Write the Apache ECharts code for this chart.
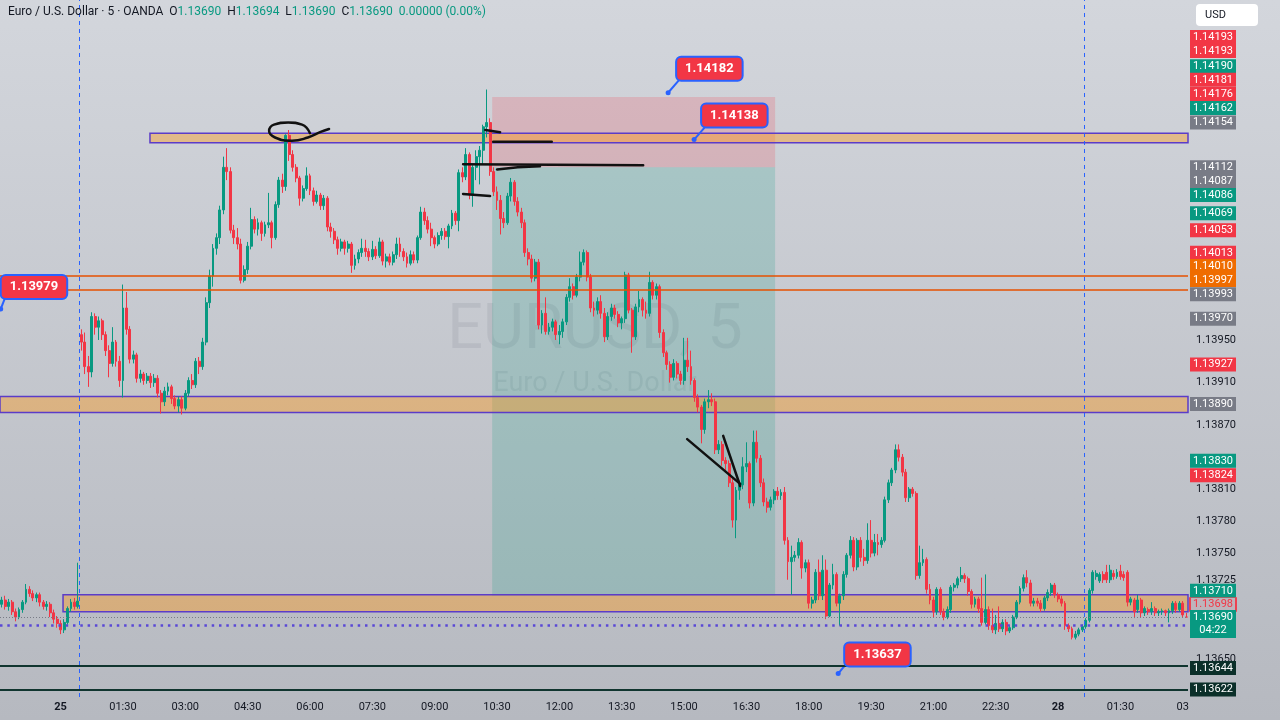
<!DOCTYPE html>
<html>
<head>
<meta charset="utf-8">
<title>EURUSD, 5</title>
<script src="https://cdn.jsdelivr.net/npm/echarts@6/dist/echarts.min.js"></script>
<style>
  html, body { margin: 0; padding: 0; background: #c8cbd1; }
  #chart { width: 1280px; height: 720px; }
</style>
</head>
<body>
<div id="chart"></div>
<script>
// prices are kept in 0.00001 steps above 1.13000
var BASE = 1.13;

// 5 min bars: [open, close, low, high]
var bars = [
  // 24th, before the session break
  [702,706,699,709],[706,700,697,710],[700,704,696,707],[704,695,692,706],[695,690,686,698],
  [690,697,688,699],[697,704,694,706],[704,716,702,721],[716,712,709,719],[712,708,705,715],
  [708,711,704,713],[711,704,700,713],[704,700,697,706],[700,702,696,705],[702,694,690,704],
  [694,688,684,697],[688,684,680,691],[684,678,674,687],[678,685,675,688],[685,698,683,700],
  [698,704,695,707],[704,700,697,708],[700,705,698,741],
  // 25th
  [955,948,940,960],[948,925,918,957],[925,920,906,935],[920,972,915,976],[972,962,955,975],
  [962,968,950,972],[968,955,950,970],[955,940,935,958],[940,928,915,945],[928,948,925,962],
  [948,930,925,950],[930,912,906,935],[912,980,896,1002],[980,960,955,995],[960,932,928,963],
  [932,936,928,940],[936,914,910,938],[914,918,910,922],[918,912,908,920],[912,916,909,919],
  [916,910,905,919],[910,914,906,918],[914,900,896,917],[900,892,881,903],[892,902,888,906],
  [902,906,898,910],[906,895,890,908],[895,888,885,898],[888,894,882,897],[894,886,880,897],
  [886,900,884,903],[900,912,897,915],[912,908,904,918],[908,930,905,933],[930,925,918,934],
  [925,948,922,952],[948,985,945,990],[985,1010,980,1016],
  [1010,1036,1000,1040],[1036,1046,1030,1050],[1046,1072,1040,1076],[1072,1112,1068,1122],[1112,1108,1100,1130],
  [1108,1053,1050,1112],[1053,1046,1040,1058],[1046,1040,1035,1055],[1040,1006,1003,1045],[1006,1016,1004,1020],
  [1016,1038,1012,1042],[1038,1063,1035,1074],[1063,1054,1050,1066],[1054,1060,1048,1064],[1060,1050,1043,1062],
  [1050,1058,1047,1061],[1058,1060,1055,1088],[1060,1046,1036,1062],[1046,1077,1044,1080],[1077,1100,1074,1103],
  [1100,1094,1088,1106],[1094,1142,1090,1143],
  [1142,1124,1118,1147],[1124,1112,1108,1128],[1112,1102,1098,1115],[1102,1083,1076,1104],[1083,1092,1080,1095],
  [1092,1104,1090,1112],[1104,1090,1086,1106],[1090,1080,1076,1093],[1080,1086,1078,1090],[1086,1076,1072,1088],
  [1076,1083,1072,1086],[1083,1056,1052,1085],[1056,1052,1046,1060],[1052,1044,1040,1055],[1044,1036,1030,1047],
  [1036,1042,1033,1045],[1042,1036,1030,1044],[1036,1040,1032,1043],[1040,1020,1013,1042],[1020,1026,1016,1030],
  [1026,1032,1022,1035],[1032,1036,1028,1045],[1036,1033,1028,1044],[1033,1028,1024,1036],[1028,1035,1025,1043],
  [1035,1029,1026,1038],[1029,1042,1027,1046],[1042,1024,1020,1044],[1024,1028,1018,1031],[1028,1023,1020,1031],
  [1023,1030,1020,1033],[1030,1040,1026,1046],[1040,1033,1028,1046],[1033,1028,1024,1036],[1028,1022,1018,1032],
  [1022,1030,1020,1034],[1030,1025,1022,1033],[1025,1046,1022,1048],
  [1046,1070,1044,1075],[1070,1062,1058,1074],[1062,1054,1050,1066],[1054,1046,1038,1060],[1046,1040,1036,1048],
  [1040,1048,1038,1051],[1048,1052,1044,1055],[1052,1047,1044,1055],[1047,1057,1036,1059],[1057,1069,1054,1072],
  [1069,1062,1058,1071],[1062,1107,1052,1110],[1107,1103,1098,1112],[1103,1124,1100,1130],[1124,1086,1082,1126],
  [1086,1112,1075,1114],[1112,1122,1100,1128],[1122,1128,1096,1132],[1128,1150,1115,1152],[1150,1154,1140,1185],
  [1154,1108,1104,1158],[1108,1089,1085,1112],[1089,1081,1072,1094],[1081,1064,1049,1086],[1064,1060,1055,1070],
  [1060,1085,1058,1088],[1085,1098,1080,1102],[1098,1080,1076,1100],[1080,1070,1066,1084],[1070,1060,1055,1074],
  [1060,1032,1028,1063],[1032,1026,1020,1036],[1026,1008,1004,1030],[1008,1023,1005,1026],[1023,964,960,1026],
  [964,975,956,978],[975,958,955,990],[958,962,955,966],[962,967,958,970],[967,955,950,969],
  [955,958,946,964],[958,967,952,970],[967,990,964,993],[990,1000,986,1008],[1000,992,988,1003],
  [992,1009,990,1012],[1009,1023,1005,1033],[1023,1032,1020,1035],[1032,1009,1005,1034],[1009,980,976,1012],
  [980,978,972,986],[978,986,974,990],[986,975,970,992],[975,953,948,980],[953,972,950,976],
  [972,980,968,984],[980,974,970,983],[974,966,962,977],[966,970,960,972],[970,1011,966,1014],
  [1011,978,975,1013],[978,953,938,980],[953,981,950,984],[981,988,976,996],[988,978,972,990],
  [978,975,970,986],[975,1004,972,1014],[1004,992,988,1006],[992,1000,988,1003],[1000,957,952,1002],
  [957,938,934,960],[938,927,922,940],[927,915,910,930],[915,928,912,932],[928,918,914,930],
  [918,912,908,921],[912,931,908,952],[931,925,920,952],[925,912,908,940],[912,896,892,914],
  [896,887,882,899],[887,866,853,889],[866,892,862,895],[892,894,886,903],[894,892,888,900],
  [892,847,843,895],[847,852,843,856],[852,837,832,855],[837,834,828,840],[834,816,812,837],
  [816,781,774,820],[781,809,764,812],[809,814,800,818],[814,831,810,840],[831,834,826,854],
  [834,797,792,836],[797,854,794,865],[854,839,835,865],[839,816,812,842],[816,798,794,820],
  [798,793,788,802],[793,800,790,803],[800,808,796,810],[808,804,800,812],[804,807,800,810],
  [807,762,758,812],[762,742,725,765],[742,746,711,757],[746,748,742,752],[748,760,745,764],
  [760,736,726,762],[736,741,732,744],[741,703,698,744],[703,706,698,709],[706,732,703,735],
  [732,710,706,744],[710,734,706,748],[734,691,688,744],[691,720,690,722],[720,730,716,740],
  [730,703,700,732],[703,710,682,712],[710,730,706,733],[730,748,727,750],[748,762,745,766],
  [762,737,733,765],[737,762,734,764],[762,746,742,765],[746,743,738,754],[743,762,740,778],
  [762,750,746,781],[750,760,747,768],[760,758,748,768],[758,762,755,765],[762,800,760,803],
  [800,816,797,819],[816,828,813,830],[828,847,825,852],[847,840,836,852],[840,826,822,843],
  [826,802,798,829],[802,810,798,812],[810,806,803,812],[806,729,725,808],[729,741,726,757],
  [741,744,738,754],[744,716,712,746],[716,706,702,721],[706,695,690,709],[695,716,692,718],
  [716,695,692,718],[695,690,687,698],[690,697,688,700],[697,718,694,720],[718,720,714,722],
  [720,726,717,728],[726,729,723,737],[729,726,722,731],[726,714,710,728],[714,702,698,716],
  [702,707,699,709],[707,698,694,709],
  [698,685,682,727],[685,697,683,730],[697,682,678,700],[682,678,675,698],[678,684,674,692],
  [684,679,676,700],[679,685,676,688],[685,677,673,688],[677,680,675,682],[680,690,678,692],
  [690,704,688,706],[704,717,702,719],[717,727,714,730],[727,722,718,734],[722,703,700,725],
  [703,705,700,708],[705,703,700,708],[703,698,695,706],[698,708,696,710],[708,713,705,716],
  [713,720,710,722],[720,711,708,722],[711,707,704,713],[707,703,700,710],[703,682,678,705],
  // 28th
  [682,679,676,684],[679,671,669,681],[671,674,669,677],[674,678,672,680],[678,681,676,683],
  [681,687,679,689],[687,715,685,717],[715,732,712,734],[728,731,725,734],[724,730,722,732],
  [730,725,722,733],[732,725,722,739],[725,734,722,739],[731,728,725,734],[728,732,726,735],
  [733,728,725,739],[730,727,724,733],[732,704,700,734],[704,707,701,709],[706,695,689,708],
  [697,706,694,711],[706,694,690,708],[694,698,691,700],[697,695,692,699],[695,698,692,704],
  [698,694,691,700],[694,695,691,697],[695,696,692,698],[696,694,691,697],[694,696,685,698],
  [696,703,693,705],[703,697,694,705],[697,703,695,705],[703,692,690,705],[690,690,690,694]
];

var tickLabels = ['25','01:30','03:00','04:30','06:00','07:30','09:00','10:30','12:00','13:30',
                  '15:00','16:30','18:00','19:30','21:00','22:30','28','01:30','03'];
var dayLabels = ['25', '28'];
var firstTick = 17, tickStep = 18;

var priceTicks = [1.13950, 1.13910, 1.13870, 1.13810, 1.13780, 1.13750, 1.13725, 1.13650];

// right-scale price tags
var tagPrices = [1.14193, 1.14193, 1.14190, 1.14181, 1.14176, 1.14162, 1.14154, 1.14112, 1.14087,
                 1.14086, 1.14069, 1.14053, 1.14013, 1.14010, 1.13997, 1.13993, 1.13970, 1.13927,
                 1.13890, 1.13830, 1.13824, 1.13710, 1.13698, 1.13690, 1.13644, 1.13622];
var tagKinds = ['sell','sell','buy','sell','sell','buy','gray','gray','gray',
                'buy','buy','sell','sell','orange','orange','gray','gray','sell',
                'gray','buy','sell','buy','outline','live','dark','dark'];
var tagShift = [-44, -30, -18, -14, -5, -6, 0, 0, -13,
                0, 0, 0, -20, -10, -10, 0, 0, 0,
                0, -7, 1, -5, -4, 7, 2, 0];
var liveCountdown = '04:22';

// drawings
var zoneLow = [1.14135, 1.13882, 1.13695];
var zoneHigh = [1.14144, 1.13897, 1.13711];
var zoneFrom = [42.8, -0.5, 17.7];
var orangeLevels = [1.14010, 1.13997];
var blackLevels = [1.13644, 1.13622];
var dottedLevels = [1.13682];
var sessionBreaks = [22.5, 312.5];
var tradeEntry = 1.14112, tradeStop = 1.14178, tradeTarget = 1.13710;
var tradeSpan = [141.6, 223.3];

var calloutPrices = [1.14182, 1.14138, 1.13979, 1.13637];
var calloutAt = [192.4, 199.9, -0.3, 241.5];
var calloutShift = [[9, -35], [8, -35], [1, -33], [7, -30]];
var calloutTails = [
  [[192.4, 1182], [195.6, 1194]],
  [[199.9, 1138], [203.1, 1150]],
  [[-0.3, 979], [0.9, 989]],
  [[241.5, 637], [244.3, 648]]
];

// freehand pen strokes, [bar position, price step]
var penStrokes = [
  [[89.0,1144],[86.7,1152],[82.7,1154],[78.6,1152],[77.2,1146],[78.9,1140],[83.8,1137],[88.4,1140],[91.9,1145],[94.5,1148]],
  [[139.6,1147],[143.9,1145]],
  [[141.9,1136],[158.8,1136]],
  [[133.2,1115],[185.2,1114]],
  [[143.0,1110],[149.0,1112.5],[155.4,1113.5]],
  [[133.2,1087],[141.0,1085]],
  [[197.9,857],[213.2,815]],
  [[208.3,860],[213.2,813]]
];

var FONT = 'Roboto, "Noto Sans", sans-serif';
var UP = '#089981', DOWN = '#f23645';

function px(v) { return +(BASE + v / 1e5).toFixed(5); }

var ohlc = bars.map(function (b) { return b.map(px); });
var N = bars.length;
var last = ohlc[N - 1];

var TAG_STYLE = {
  sell: { bg: DOWN, fg: '#fff' },
  buy: { bg: UP, fg: '#fff' },
  live: { bg: UP, fg: '#fff' },
  gray: { bg: '#787b86', fg: '#fff' },
  orange: { bg: '#ef6c00', fg: '#fff' },
  dark: { bg: '#0b2f29', fg: '#fff' },
  outline: { bg: 'rgba(242,54,69,0.07)', fg: DOWN, border: DOWN }
};

var tagPoints = tagPrices.map(function (v, k) {
  var s = TAG_STYLE[tagKinds[k]];
  var two = tagKinds[k] === 'live';
  return {
    coord: [0, v], x: 1213,
    symbol: 'rect',
    symbolSize: [46, two ? 28 : 14],
    symbolOffset: [0, tagShift[k]],
    itemStyle: { color: s.bg, borderColor: s.border || s.bg, borderWidth: s.border ? 1 : 0 },
    label: {
      show: true, position: 'inside', color: s.fg, fontSize: 11, fontFamily: FONT, lineHeight: 13,
      formatter: two ? v.toFixed(5) + '\n' + liveCountdown : v.toFixed(5)
    }
  };
});

var calloutPoints = calloutPrices.map(function (v, k) {
  return {
    coord: [calloutAt[k], v],
    symbol: 'circle', symbolSize: 5,
    itemStyle: { color: '#2962ff' },
    label: {
      show: true,
      position: [calloutShift[k][0] + 2.5, calloutShift[k][1] + 2.5],
      formatter: v.toFixed(5),
      backgroundColor: DOWN, borderColor: '#2962ff', borderWidth: 2, borderRadius: 4,
      padding: [4, 8], color: '#fff', fontSize: 13, fontWeight: 'bold', fontFamily: FONT, lineHeight: 14
    }
  };
});

var areas = [
  [{ xAxis: tradeSpan[0], yAxis: tradeEntry, itemStyle: { color: 'rgba(242,54,69,0.19)' } },
   { xAxis: tradeSpan[1], yAxis: tradeStop }],
  [{ xAxis: tradeSpan[0], yAxis: tradeTarget, itemStyle: { color: 'rgba(8,153,129,0.19)' } },
   { xAxis: tradeSpan[1], yAxis: tradeEntry }]
];
zoneLow.forEach(function (lo, k) {
  areas.push([
    { xAxis: zoneFrom[k], yAxis: lo,
      itemStyle: { color: 'rgba(255,150,20,0.4)', borderColor: '#5b3cc8', borderWidth: 1.5 } },
    { xAxis: N - 0.5, yAxis: zoneHigh[k] }
  ]);
});

var lines = [];
orangeLevels.forEach(function (v) {
  lines.push({ yAxis: v, lineStyle: { color: '#e65100', width: 1.5, type: 'solid' } });
});
blackLevels.forEach(function (v) {
  lines.push({ yAxis: v, lineStyle: { color: '#10352f', width: 2, type: 'solid' } });
});
dottedLevels.forEach(function (v) {
  lines.push({ yAxis: v, lineStyle: { color: '#5a48d6', width: 2.5, type: [2.5, 4.8] } });
});
lines.push({ yAxis: last[1], lineStyle: { color: '#787b86', width: 1, type: [1, 2] } });
sessionBreaks.forEach(function (v) {
  lines.push({ xAxis: v, lineStyle: { color: '#2962ff', width: 1, type: [4, 4] } });
});

var series = [{
  type: 'candlestick',
  xAxisIndex: 0, yAxisIndex: 0,
  data: ohlc,
  barWidth: 2.4,
  z: 3,
  itemStyle: { color: UP, color0: DOWN, borderColor: UP, borderColor0: DOWN, borderWidth: 1 }
}];

penStrokes.forEach(function (pts, k) {
  var s = {
    type: 'line', xAxisIndex: 1, yAxisIndex: 0, z: 4, silent: true, clip: false,
    data: pts.map(function (p) { return [p[0], px(p[1])]; }),
    smooth: pts.length > 3 ? 0.5 : false,
    showSymbol: false, symbol: 'none',
    lineStyle: { color: '#111', width: 2.5, cap: 'round' }
  };
  if (k === 0) {
    s.markArea = { silent: true, data: areas };
    s.markLine = { silent: true, precision: 5, symbol: ['none', 'none'], label: { show: false }, data: lines };
    s.markPoint = { silent: true, data: tagPoints.concat(calloutPoints) };
  }
  series.push(s);
});
calloutTails.forEach(function (pts) {
  series.push({
    type: 'line', xAxisIndex: 1, yAxisIndex: 0, z: 4, silent: true, clip: false,
    data: pts.map(function (p) { return [p[0], px(p[1])]; }),
    showSymbol: false, symbol: 'none',
    lineStyle: { color: '#2962ff', width: 2 }
  });
});

var head = ['O', 'H', 'L', 'C'];
var headVals = [last[0], last[3], last[2], last[1]];
var headerText = '{n|Euro / U.S. Dollar · 5 · OANDA}  ' +
  head.map(function (h, k) { return '{n|' + h + '}{v|' + headVals[k].toFixed(5) + '}'; }).join('  ') +
  '  {v|' + (last[1] - last[0]).toFixed(5) + ' (0.00%)}';

var chart = echarts.init(document.getElementById('chart'), null, { renderer: 'canvas' });
chart.setOption({
  animation: false,
  grid: { left: 0, right: 92, top: 0, bottom: 23 },
  xAxis: [{
    type: 'category',
    data: bars.map(function (_, i) { return i; }),
    boundaryGap: true,
    axisLine: { show: false }, axisTick: { show: false }, splitLine: { show: false },
    axisLabel: {
      interval: function (i) { return i >= firstTick && (i - firstTick) % tickStep === 0; },
      formatter: function (v, i) {
        var t = tickLabels[(i - firstTick) / tickStep] || '';
        return dayLabels.indexOf(t) >= 0 ? '{d|' + t + '}' : t;
      },
      color: '#131722', fontSize: 11, fontFamily: FONT, margin: 5,
      rich: { d: { fontWeight: 'bold', fontSize: 11, fontFamily: FONT, color: '#131722' } }
    }
  }, {
    type: 'value', show: false, min: -0.5, max: N - 0.5
  }],
  yAxis: {
    type: 'value', position: 'right', min: 1.13615, max: 1.14269, scale: true,
    axisLine: { show: false }, axisTick: { show: false }, splitLine: { show: false },
    axisLabel: {
      customValues: priceTicks,
      formatter: function (v) { return v.toFixed(5); },
      color: '#131722', fontSize: 11, fontFamily: FONT, margin: 8
    }
  },
  graphic: [
    { type: 'rect', silent: true, z: -10, shape: { x: 0, y: 0, width: 1280, height: 720 },
      style: { fill: { type: 'linear', x: 0, y: 0, x2: 0, y2: 1,
        colorStops: [{ offset: 0, color: '#d3d6dc' }, { offset: 1, color: '#b6b9c0' }] } } },
    { type: 'text', silent: true, z: 0, x: 595, y: 332,
      style: { text: 'EURUSD, 5', fontSize: 63, fontFamily: FONT, fill: 'rgba(90,95,112,0.12)',
               align: 'center', verticalAlign: 'middle' } },
    { type: 'text', silent: true, z: 0, x: 595, y: 384,
      style: { text: 'Euro / U.S. Dollar', fontSize: 27, fontFamily: FONT, fill: 'rgba(90,95,112,0.12)',
               align: 'center', verticalAlign: 'middle' } },
    { type: 'text', silent: true, z: 10, x: 8, y: 12,
      style: { text: headerText, fontSize: 12, fontFamily: FONT, fill: '#131722', verticalAlign: 'middle',
        rich: { n: { fill: '#131722', fontSize: 12, fontFamily: FONT },
                v: { fill: UP, fontSize: 12, fontFamily: FONT } } } },
    { type: 'rect', silent: true, z: 10, shape: { x: 1196, y: 4, width: 62, height: 22, r: 4 },
      style: { fill: '#ffffff' } },
    { type: 'text', silent: true, z: 11, x: 1205, y: 15,
      style: { text: 'USD', fontSize: 11, fontFamily: FONT, fill: '#131722', verticalAlign: 'middle' } }
  ],
  series: series
});
</script>
</body>
</html>
